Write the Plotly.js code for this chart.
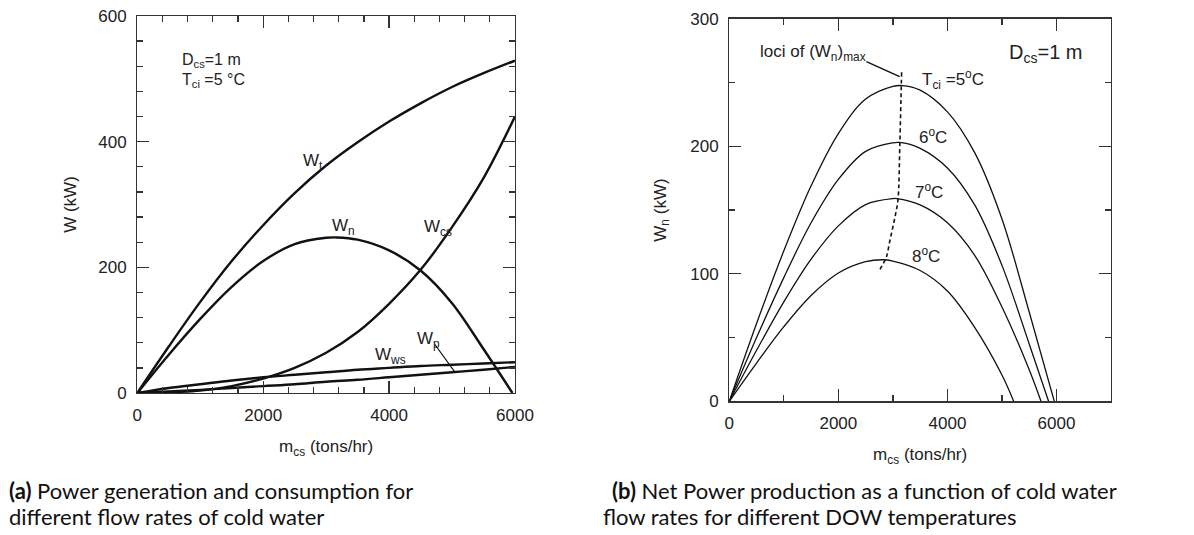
<!DOCTYPE html>
<html><head><meta charset="utf-8">
<script src="https://cdn.plot.ly/plotly-3.0.1.min.js"></script>
<style>html,body{margin:0;padding:0;background:#fff;}#chart{width:1194px;height:535px;}</style>
</head><body><div id="chart"></div>
<script>
// ---- Panel (a): power vs cold-water flow rate (D_cs = 1 m, T_ci = 5 C)
const flowGrid = [0,500,1000,1500,2000,2500,3000,3500,4000,4500,5000,5500,6000];
const wTurbine = [0,74,145,210,267,318,362,399,432,461,487,509,529];
const wColdPump = [0,1,4,11,23,40,64,97,142,196,264,342,440];
const wWarmPump = [0,8,14,20,25,29,33,37,40,43,45,47,49];
const wPump = [0,2.5,5,8,11,14,18,21,25,29,33,37,41.5];
const flowNet = [0,500,1000,1500,2000,2500,3000,3170,3500,4000,4500,5000,5500,5960];
const wNet = [0,61,118,169,210,237,247,247.6,244,227,195,143,70,0];

// ---- Panel (b): net power for different DOW temperatures
const flow5 = [0,500,1000,1500,2000,2500,3000,3170,3500,4000,4500,5000,5500,5960];
const wn5 = [0,61,118,169,210,237,247,247.6,244,227,195,143,70,0];
const flow6 = [0,500,1000,1500,2000,2500,3000,3120,3500,4000,4500,5000,5500,5855];
const wn6 = [0,50,97,140,174,196,202.7,203,198.4,183,154,106.6,45,0];
const flow7 = [0,500,1000,1500,2000,2500,3000,3070,3500,4000,4500,5000,5500,5716];
const wn7 = [0,40,78,111.5,137.6,154.3,159,159,154,140,114.5,74,24.8,0];
const flow8 = [0,500,1000,1500,2000,2500,2820,3000,3500,4000,4500,5000,5215];
const wn8 = [0,30,58.5,83,100.6,109.5,111,110,102.6,86.5,58,20.6,0];
const lociFlow = [3160,3154,3128,3093,3050,3001,2940,2880,2810,2740];
const lociW = [258,247.5,203,158,147,137,125,113,107,101.6];

const FONT = 'Liberation Sans, Arial, Helvetica, sans-serif';
const INK = '#111';
const AX = '#333';

function line(x, y, xa, ya, w, dash) {
  return {x: x, y: y, xaxis: xa, yaxis: ya, type: 'scatter', mode: 'lines',
    line: {color: INK, width: w, shape: 'spline', smoothing: 1, dash: dash || 'solid'},
    hoverinfo: 'skip', showlegend: false};
}

const traces = [
  line(flowGrid, wTurbine, 'x', 'y', 2.4),
  line(flowNet, wNet, 'x', 'y', 2.4),
  line(flowGrid, wColdPump, 'x', 'y', 2.4),
  line(flowGrid, wWarmPump, 'x', 'y', 2.4),
  line(flowGrid, wPump, 'x', 'y', 2.4),
  line(flow5, wn5, 'x2', 'y2', 1.3),
  line(flow6, wn6, 'x2', 'y2', 1.3),
  line(flow7, wn7, 'x2', 'y2', 1.3),
  line(flow8, wn8, 'x2', 'y2', 1.3),
  line(lociFlow, lociW, 'x2', 'y2', 1.6, '4px,3px')
];

function axis(extra, minorD) {
  return Object.assign({
    showline: true, linecolor: AX, linewidth: 1.3, mirror: 'ticks',
    ticks: 'inside', ticklen: 12, tickwidth: 1.3, tickcolor: AX,
    showgrid: false, zeroline: false, automargin: false,
    tickfont: {family: FONT, size: 17, color: '#222'},
    minor: {ticks: 'inside', ticklen: 6, tickwidth: 1.3, tickcolor: AX, dtick: minorD, showgrid: false},
    fixedrange: true
  }, extra);
}

const tf = (s) => ({family: FONT, size: s, color: '#222'});
function note(text, x, y, xr, yr, size, anchor) {
  return {text: text, x: x, y: y, xref: xr, yref: yr, showarrow: false,
    xanchor: anchor || 'left', yanchor: 'middle', font: tf(size)};
}
function cap(text, px, py) {
  return {text: text, x: px / 1194, y: 1 - py / 535, xref: 'paper', yref: 'paper',
    showarrow: false, xanchor: 'left', yanchor: 'middle', align: 'left',
    font: {family: 'Lato, Open Sans, sans-serif', size: 22, color: '#111'}};
}

const layout = {
  width: 1194, height: 535,
  margin: {l: 0, r: 0, t: 0, b: 0},
  paper_bgcolor: '#fff', plot_bgcolor: '#fff',
  showlegend: false,
  xaxis: axis({domain: [0.1150, 0.4313], range: [0, 6000], dtick: 2000, anchor: 'y', ticklabelstandoff: 6,
    title: {text: 'm<sub>cs</sub> (tons/hr)', font: tf(17), standoff: 16}}, 400),
  yaxis: axis({domain: [0.2654, 0.9701], range: [0, 600], dtick: 200, anchor: 'x', ticklabelstandoff: 6,
    title: {text: 'W (kW)', font: tf(17), standoff: 17}}, 40),
  xaxis2: axis({domain: [0.6108, 0.9305], range: [0, 7000], dtick: 2000, anchor: 'y2', ticklabelstandoff: 6,
    title: {text: 'm<sub>cs</sub> (tons/hr)', font: tf(17), standoff: 16}}, 1000),
  yaxis2: axis({domain: [0.2499, 0.9649], range: [0, 300], dtick: 100, anchor: 'x2', ticklabelstandoff: 6,
    title: {text: 'W<sub>n</sub> (kW)', font: tf(17), standoff: 19}}, 50),
  shapes: [
    {type: 'line', xref: 'x', yref: 'y', x0: 4725, y0: 77.6, x1: 5043, y1: 33.5, line: {color: INK, width: 1.2}},
    {type: 'line', xref: 'x2', yref: 'y2', x0: 2514, y0: 266.4, x1: 3124, y1: 254.6, line: {color: INK, width: 1.4}}
  ],
  annotations: [
    note('D<sub>cs</sub>=1 m', 680, 529, 'x', 'y', 16),
    note('T<sub>ci</sub> =5 °C', 680, 497, 'x', 'y', 16),
    note('W<sub>t</sub>', 2600, 368, 'x', 'y', 17),
    note('W<sub>n</sub>', 3059, 263.6, 'x', 'y', 17),
    note('W<sub>cs</sub>', 4530, 262, 'x', 'y', 17),
    note('W<sub>p</sub>', 4408, 84, 'x', 'y', 17),
    note('W<sub>ws</sub>', 3746, 59, 'x', 'y', 17),
    note('D<sub>cs</sub>=1 m', 5100, 272.4, 'x2', 'y2', 20),
    note('loci of (W<sub>n</sub>)<sub>max</sub>', 525, 273, 'x2', 'y2', 17),
    note('T<sub>ci</sub> =5<sup>o</sup>C', 3490, 252, 'x2', 'y2', 17),
    note('6<sup>o</sup>C', 3450, 208, 'x2', 'y2', 17),
    note('7<sup>o</sup>C', 3360, 165, 'x2', 'y2', 17),
    note('8<sup>o</sup>C', 3305, 115, 'x2', 'y2', 17),
    cap('<b>(a)</b> Power generation and consumption for', 7, 490),
    cap('different flow rates of cold water', 7, 516),
    cap('<b>(b)</b> Net Power production as a function of cold water', 610, 490),
    cap('flow rates for different DOW temperatures', 601, 516)
  ]
};

Plotly.newPlot('chart', traces, layout, {staticPlot: true, displayModeBar: false});
</script>
</body></html>
